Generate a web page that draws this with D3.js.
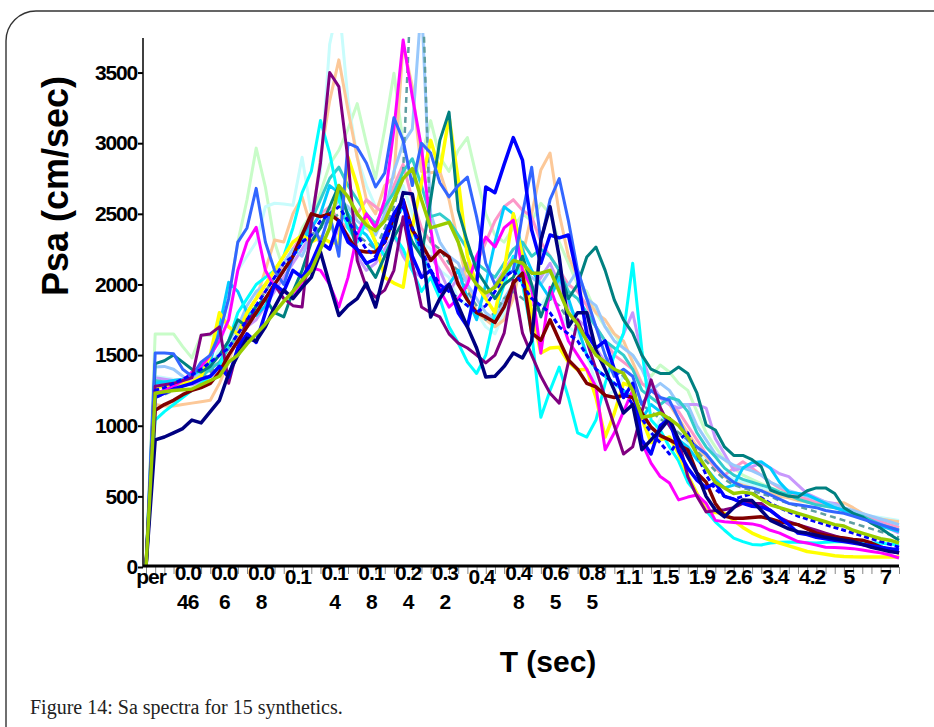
<!DOCTYPE html>
<html>
<head>
<meta charset="utf-8">
<script src="https://cdn.jsdelivr.net/npm/d3@7"></script>
<style>
  body { margin: 0; background: #fff; }
  svg { display: block; }
</style>
</head>
<body>
<div id="chart"></div>
<script>
// Periods (sec) of the spectra, first column is the "per" header column
const periods = ["per", "0.04", "0.042", "0.044", "0.046", "0.048", "0.05", "0.055", "0.06", "0.065",
    "0.07", "0.075", "0.08", "0.085", "0.09", "0.095", "0.1", "0.11", "0.12", "0.13",
    "0.14", "0.15", "0.16", "0.17", "0.18", "0.19", "0.2", "0.22", "0.24", "0.26",
    "0.28", "0.3", "0.32", "0.34", "0.36", "0.38", "0.4", "0.42", "0.44", "0.46",
    "0.48", "0.5", "0.55", "0.6", "0.65", "0.7", "0.75", "0.8", "0.85", "0.9",
    "0.95", "1", "1.1", "1.2", "1.3", "1.4", "1.5", "1.6", "1.7", "1.8",
    "1.9", "2", "2.2", "2.4", "2.6", "2.8", "3", "3.2", "3.4", "3.6",
    "3.8", "4", "4.2", "4.4", "4.6", "4.8", "5", "5.5", "6", "6.5",
    "7", "7.5", "8"];

const yTicks = [0, 500, 1000, 1500, 2000, 2500, 3000, 3500];

// Psa values (cm/sec), one array per synthetic
const navy = [0,
    900, 920, 950, 980, 1040, 1020, 1100, 1180, 1370, 1500,
    1620, 1600, 1700, 1840, 1960, 1900, 1980, 2050, 2230, 2000,
    1780, 1850, 1900, 2010, 1840, 2100, 2380, 2650, 2640, 2290,
    1770, 1900, 2000, 1850, 1700, 1550, 1345, 1350, 1420, 1515,
    1480, 1600, 2315, 2550, 2195, 1700, 1800, 1800, 1535, 1400,
    1250, 1090, 1150, 830, 900, 970, 1050, 900, 780, 665,
    500, 405, 355, 420, 475, 470, 400, 330, 300, 270,
    250, 240, 225, 210, 200, 190, 180, 160, 140, 125,
    110, 100];

const blue = [0,
    1200, 1230, 1260, 1280, 1300, 1330, 1350, 1420, 1345, 1550,
    1650, 1590, 1800, 2000, 1950, 2100, 2050, 2150, 2300, 2250,
    2450, 2300, 2250, 2150, 2180, 2350, 2500, 2600, 2200, 2050,
    2100, 1950, 2000, 1800, 1700, 2000, 2690, 2650, 2850, 3040,
    2880, 2385, 2150, 2350, 2330, 2350, 2050, 1650, 1550, 1600,
    1400, 1200, 1300, 900, 800, 1000, 1050, 820, 700, 615,
    560, 595, 500, 480, 450, 430, 425, 400, 350, 300,
    240, 230, 210, 200, 190, 180, 170, 160, 150, 140,
    130, 120];

const royal = [0,
    1515, 1515, 1510, 1400, 1350, 1450, 1500, 1650, 1900, 2300,
    2400, 2680, 2300, 2100, 2000, 2200, 2350, 2450, 2300, 2500,
    2200, 3000, 2970, 2860, 2690, 2790, 3180, 3020, 2700, 3000,
    2930, 2720, 2620, 2700, 2760, 2480, 2150, 2000, 2050, 2100,
    2500, 2830, 2300, 2600, 2750, 2450, 2100, 1900, 1700, 1500,
    1350, 1400, 1350, 1150, 1250, 1200, 1180, 1050, 900, 850,
    800, 720, 650, 600, 570, 560, 540, 510, 480, 450,
    440, 430, 420, 400, 390, 380, 360, 340, 320, 300,
    280, 260];

const lightBlue = [0,
    1415, 1420, 1400, 1350, 1300, 1380, 1450, 1500, 1600, 1700,
    1850, 1950, 2000, 2100, 2150, 2250, 2200, 2350, 2400, 2500,
    2600, 2550, 2450, 2400, 2350, 2500, 2800, 3000, 3100, 4000,
    2500, 2300, 2200, 2150, 2000, 1900, 1800, 1750, 1900, 2000,
    2100, 2050, 2000, 2100, 2000, 2000, 2100, 1900, 1850, 1700,
    1600, 1550, 1500, 1400, 1250, 1300, 1250, 1150, 1150, 1000,
    900, 800, 760, 720, 700, 680, 650, 600, 570, 540,
    520, 500, 480, 460, 440, 420, 400, 380, 360, 340,
    320, 300];

const cyan = [0,
    1040, 1100, 1150, 1200, 1250, 1300, 1350, 1420, 1600, 1800,
    1900, 2000, 2050, 2100, 2200, 2400, 2650, 2800, 3160, 2930,
    2600, 2400, 2300, 2450, 2300, 2200, 2350, 2250, 2100, 1950,
    2050, 1900, 1700, 1585, 1450, 1370, 1500, 1800, 2000, 2200,
    2000, 1655, 1060, 1250, 1415, 1200, 950, 920, 1040, 1300,
    1500, 1655, 2150, 1535, 1040, 970, 850, 750, 600, 520,
    400, 320, 260, 205, 180, 160, 156, 170, 175, 177,
    175, 172, 170, 175, 178, 180, 178, 175, 172, 168,
    162, 156];

const deepSky = [0,
    1300, 1310, 1320, 1330, 1350, 1400, 1450, 1700, 2015, 1950,
    1800, 1780, 1850, 2000, 2100, 2200, 2300, 2400, 2500, 2700,
    2650, 2500, 2400, 2350, 2250, 2300, 2450, 2550, 2400, 2200,
    2100, 1950, 2000, 2100, 1900, 1750, 2000, 2300, 2550, 2500,
    2245, 2100, 2000, 1900, 2050, 1900, 1700, 1500, 1400, 1350,
    1300, 1250, 1200, 1050, 1150, 1100, 1000, 900, 850, 760,
    700, 620, 560, 580, 700, 740, 745, 700, 600, 530,
    520, 510, 480, 450, 420, 400, 380, 350, 320, 290,
    270, 250];

const lightCyan = [0,
    1350, 1340, 1330, 1310, 1280, 1330, 1400, 1550, 1800, 2100,
    2200, 2300, 2550, 2575, 2570, 2560, 2900, 2500, 2800, 3700,
    4000, 3300, 2900, 2700, 2550, 2500, 2600, 2700, 2500, 2300,
    2250, 2100, 2050, 1900, 1850, 1800, 1700, 1650, 1800, 2000,
    2050, 1900, 1850, 1950, 1800, 1700, 1650, 1500, 1300, 1200,
    1250, 1350, 1300, 1100, 900, 1050, 1000, 950, 880, 800,
    750, 720, 660, 620, 600, 580, 560, 540, 520, 500,
    490, 470, 450, 430, 420, 400, 390, 370, 360, 350,
    340, 330];

const teal = [0,
    1440, 1460, 1500, 1450, 1400, 1380, 1420, 1500, 1600, 1750,
    1700, 1850, 1900, 1800, 1770, 1950, 2100, 2300, 2400, 2550,
    2700, 2480, 2240, 2150, 2050, 2200, 2335, 2450, 2300, 2200,
    2600, 3020, 3220, 2525, 2300, 2100, 2000, 1900, 2000, 2050,
    2200, 2000, 1770, 1950, 2100, 1900, 2000, 2195, 2265, 2100,
    1890, 1750, 1655, 1500, 1400, 1370, 1370, 1415, 1370, 1230,
    1005, 970, 850, 790, 790, 760, 710, 545, 520, 500,
    495, 540, 560, 560, 520, 420, 380, 355, 310, 275,
    230, 190];

const turquoise = [0,
    1320, 1310, 1300, 1290, 1300, 1350, 1400, 1450, 1550, 1650,
    1750, 1850, 1900, 2000, 2100, 2200, 2300, 2450, 2600, 2750,
    2830, 2700, 2600, 2500, 2430, 2550, 2650, 2800, 2890, 2700,
    2480, 2500, 2450, 2350, 2250, 2150, 2100, 2050, 2150, 2250,
    2300, 2200, 2250, 2200, 2100, 1950, 1900, 1800, 1700, 1600,
    1550, 1500, 1400, 1250, 1200, 1150, 1200, 1180, 1100, 950,
    850, 780, 700, 650, 620, 600, 580, 560, 530, 510,
    480, 460, 440, 430, 420, 400, 380, 360, 330, 300,
    280, 260];

const paleGreen = [0,
    1650, 1650, 1650, 1560, 1480, 1640, 1640, 1650, 1900, 2300,
    2600, 2965, 2690, 2300, 2100, 2200, 2400, 2500, 2650, 2850,
    2950, 3100, 3280, 3000, 2750, 3100, 3495, 3000, 2700, 2900,
    3160, 2900, 2800, 2950, 3040, 2760, 2500, 2350, 2300, 2400,
    2500, 2450, 2575, 2500, 2300, 2150, 2000, 1950, 1800, 1700,
    1650, 1550, 1500, 1400, 1350, 1430, 1380, 1300, 1250, 1100,
    950, 850, 760, 700, 650, 620, 590, 560, 540, 520,
    500, 480, 460, 440, 420, 400, 380, 360, 340, 320,
    300, 280];

const yellow = [0,
    1270, 1280, 1290, 1300, 1310, 1350, 1500, 1800, 1700, 1650,
    1800, 1900, 2000, 2100, 2200, 2300, 2350, 2300, 2335, 2300,
    2290, 2900, 2700, 2450, 2300, 2050, 2010, 1980, 2400, 2720,
    3020, 2800, 3185, 2740, 2200, 2000, 1900, 1800, 2100, 2500,
    2200, 1800, 1515, 1550, 1555, 1450, 1395, 1400, 1200, 920,
    1090, 1300, 1275, 1050, 880, 900, 920, 800, 650, 520,
    400, 385, 380, 330, 280, 240, 212, 190, 170, 150,
    130, 110, 100, 90, 80, 75, 72, 71, 70, 70,
    71, 71];

const magenta = [0,
    1230, 1250, 1280, 1320, 1380, 1420, 1500, 1600, 1750, 2100,
    2300, 2405, 2100, 1980, 1950, 1910, 2000, 2120, 2100, 2000,
    1840, 2050, 2350, 2500, 2400, 2600, 3100, 3730, 3330, 2970,
    2400, 1960, 1840, 1900, 2000, 2200, 2335, 2265, 2400, 2455,
    2100, 1980, 1515, 1980, 1800, 1600, 1500, 1400, 1275, 830,
    950, 1100, 1250, 880, 735, 640, 595, 475, 495, 510,
    450, 330, 320, 315, 310, 305, 290, 260, 240, 210,
    180, 170, 155, 140, 138, 135, 130, 120, 110, 100,
    85, 64];

const purple = [0,
    1280, 1290, 1300, 1320, 1340, 1640, 1650, 1700, 1300, 1550,
    1750, 1800, 1900, 2000, 1900, 1850, 1840, 2435, 2860, 3500,
    3400, 2880, 2170, 1980, 1910, 1960, 2100, 2480, 2150, 1840,
    1800, 1770, 1650, 1585, 1550, 1500, 1445, 1500, 1655, 2030,
    1655, 1500, 1350, 1230, 1160, 1450, 1750, 1600, 1400, 1200,
    1000, 800, 850, 1100, 1325, 1130, 1000, 900, 640, 500,
    390, 400, 405, 420, 450, 450, 450, 400, 350, 320,
    300, 280, 260, 240, 220, 200, 180, 160, 150, 130,
    115, 100];

const maroon = [0,
    1110, 1150, 1180, 1220, 1250, 1270, 1300, 1380, 1500, 1600,
    1700, 1800, 1900, 2000, 2100, 2200, 2350, 2500, 2480, 2500,
    2450, 2335, 2240, 2230, 2230, 2300, 2480, 2600, 2385, 2290,
    2170, 2240, 2195, 2000, 1890, 1800, 1770, 1730, 1840, 2010,
    2080, 1655, 1605, 1750, 1605, 1465, 1400, 1300, 1275, 1215,
    1200, 1215, 1200, 1090, 990, 930, 900, 865, 830, 665,
    600, 450, 360, 345, 345, 350, 355, 340, 320, 310,
    300, 270, 240, 225, 212, 205, 195, 190, 170, 142,
    120, 100];

const peach = [0,
    1150, 1140, 1140, 1150, 1160, 1170, 1180, 1300, 1450, 1650,
    1800, 1900, 2100, 2315, 2300, 2500, 2620, 2400, 2900, 3300,
    3590, 3235, 2900, 2600, 2500, 2700, 2760, 3700, 3400, 2800,
    2790, 2800, 2600, 2300, 2000, 1800, 1750, 1700, 1750, 1900,
    2200, 2500, 2810, 2930, 2500, 2200, 2050, 1900, 1800, 1750,
    1650, 1600, 1450, 1300, 1250, 1200, 1150, 1050, 950, 850,
    780, 700, 640, 600, 580, 560, 540, 520, 500, 490,
    470, 460, 450, 440, 450, 455, 420, 380, 350, 340,
    330, 320];

const pink = [0,
    1300, 1310, 1320, 1330, 1340, 1360, 1400, 1450, 1550, 1650,
    1800, 1900, 1950, 2050, 2150, 2250, 2350, 2400, 2500, 2550,
    2450, 2400, 2500, 2600, 2550, 2500, 2700, 2850, 2600, 2400,
    2300, 2200, 2100, 2000, 2050, 2150, 2300, 2450, 2550, 2600,
    2525, 2480, 2300, 2200, 2100, 2000, 1950, 1850, 1700, 1600,
    1500, 1450, 1400, 1300, 1250, 1200, 1150, 1100, 1000, 900,
    800, 700, 650, 700, 745, 700, 650, 600, 560, 530,
    500, 480, 460, 440, 420, 400, 380, 360, 340, 320,
    300, 280];

const lavender = [0,
    1340, 1330, 1320, 1300, 1290, 1310, 1350, 1400, 1500, 1600,
    1700, 1750, 1850, 1950, 2050, 2150, 2250, 2350, 2300, 2250,
    2400, 2350, 2200, 2100, 2150, 2250, 2350, 2200, 2100, 2050,
    2200, 2100, 1950, 2050, 2150, 2000, 1900, 2000, 2100, 2200,
    2050, 1950, 2050, 2150, 2000, 1850, 1750, 1700, 1550, 1450,
    1500, 1650, 1800, 1500, 1300, 1200, 1150, 1125, 1150, 1150,
    1125, 910, 800, 685, 700, 710, 735, 700, 660, 640,
    580, 520, 490, 460, 450, 420, 380, 355, 330, 310,
    270, 240];

const cadetDash = [0,
    1200, 1220, 1250, 1280, 1300, 1330, 1380, 1450, 1550, 1650,
    1750, 1850, 1950, 2050, 2100, 2200, 2300, 2350, 2400, 2450,
    2500, 2450, 2350, 2300, 2250, 2400, 2550, 2800, 4300, 4300,
    2300, 2250, 2150, 2100, 1950, 1850, 1750, 1800, 1900, 1950,
    1900, 1850, 1800, 1900, 1850, 1750, 1700, 1600, 1500, 1450,
    1400, 1350, 1250, 1150, 1100, 1050, 1000, 950, 900, 820,
    750, 680, 620, 580, 560, 540, 520, 500, 470, 450,
    430, 410, 390, 370, 350, 330, 310, 290, 270, 250,
    230, 210];

const blueDash = [0,
    1250, 1270, 1300, 1330, 1360, 1400, 1450, 1500, 1550, 1650,
    1750, 1850, 1950, 2050, 2150, 2200, 2300, 2350, 2450, 2500,
    2550, 2450, 2350, 2250, 2200, 2300, 2450, 2550, 2400, 2250,
    2100, 2000, 1950, 1900, 1850, 1800, 1850, 1950, 2050, 2100,
    2000, 1900, 1850, 1800, 1700, 1650, 1600, 1500, 1400, 1350,
    1300, 1250, 1150, 1050, 950, 880, 800, 900, 950, 800,
    650, 550, 500, 480, 500, 520, 490, 450, 420, 390,
    360, 340, 320, 300, 280, 260, 240, 220, 200, 180,
    160, 140];

const average = [0,
    1230, 1240, 1250, 1255, 1260, 1290, 1320, 1350, 1450, 1500,
    1580, 1650, 1720, 1800, 1880, 1950, 2030, 2100, 2250, 2400,
    2700, 2620, 2500, 2420, 2380, 2450, 2600, 2750, 2820, 2600,
    2400, 2420, 2440, 2300, 2100, 2000, 1940, 1980, 2080, 2170,
    2150, 2080, 2080, 2100, 1950, 1800, 1720, 1600, 1500, 1450,
    1400, 1370, 1250, 1060, 1070, 1090, 1050, 1000, 920, 800,
    700, 600, 560, 520, 530, 520, 480, 440, 420, 400,
    380, 360, 340, 320, 300, 290, 260, 240, 220, 200,
    190, 170];

// drawing order: pale lines underneath, dark / average on top
const seriesList = [
    { values: paleGreen, color: "#c8fcc8", width: 3 },
    { values: lightCyan, color: "#c8fcfc", width: 3 },
    { values: peach, color: "#fcc898", width: 3 },
    { values: pink, color: "#fc98c8", width: 3 },
    { values: lavender, color: "#c898fc", width: 3 },
    { values: lightBlue, color: "#98c8fc", width: 3 },
    { values: cadetDash, color: "#5f9ea0", width: 2.5, dash: "6,4" },
    { values: turquoise, color: "#33cccc", width: 3 },
    { values: deepSky, color: "#00ccff", width: 3 },
    { values: cyan, color: "#00ffff", width: 3 },
    { values: yellow, color: "#ffff00", width: 3.5 },
    { values: magenta, color: "#ff00ff", width: 3 },
    { values: teal, color: "#008080", width: 3 },
    { values: royal, color: "#3366ff", width: 3 },
    { values: purple, color: "#800080", width: 3 },
    { values: maroon, color: "#800000", width: 3.5 },
    { values: blueDash, color: "#0000ff", width: 3, dash: "5,3" },
    { values: blue, color: "#0000ff", width: 3.5 },
    { values: navy, color: "#000080", width: 3.5 },
    { values: average, color: "#99cc00", width: 3.5 }
];

const W = 934, H = 727;
const svg = d3.select("#chart").append("svg")
    .attr("width", W)
    .attr("height", H);

// rounded frame of the figure box
svg.append("rect")
    .attr("x", 6).attr("y", 11)
    .attr("width", 960).attr("height", 745)
    .attr("rx", 30)
    .attr("fill", "none")
    .attr("stroke", "#333")
    .attr("stroke-width", 1.4);

const x = d3.scalePoint()
    .domain(d3.range(periods.length))
    .range([146, 899]);

const y = d3.scaleLinear()
    .domain([0, 3780])
    .range([567, 33]);

svg.append("clipPath").attr("id", "plot")
    .append("rect")
    .attr("x", 143).attr("y", 33)
    .attr("width", 770).attr("height", 540);

const line = d3.line()
    .x((d, i) => x(i))
    .y(d => y(d));

svg.append("g").attr("clip-path", "url(#plot)")
    .selectAll("path")
    .data(seriesList)
    .enter()
    .append("path")
    .attr("d", d => line(d.values))
    .attr("fill", "none")
    .attr("stroke", d => d.color)
    .attr("stroke-width", d => d.width)
    .attr("stroke-dasharray", d => d.dash || null)
    .attr("stroke-linejoin", "round");

const fontFam = "'Liberation Sans', Arial, sans-serif";

// y axis
const yAxis = svg.append("g")
    .attr("transform", "translate(143,0)")
    .call(d3.axisLeft(y).tickValues(yTicks).tickFormat(d3.format("d"))
        .tickSize(5).tickPadding(1).tickSizeOuter(0));
yAxis.select(".domain").attr("d", "M0,38V567").attr("stroke", "#000").attr("stroke-width", 1.5);
yAxis.selectAll(".tick line").attr("stroke", "#000").attr("stroke-width", 2);
yAxis.selectAll(".tick text")
    .attr("font-family", fontFam)
    .attr("font-weight", "bold")
    .attr("font-size", 21)
    .attr("letter-spacing", "-1.2px")
    .attr("fill", "#000");

// x axis: one small tick per period, label every fourth
const xAxis = svg.append("g")
    .attr("transform", "translate(0,567)")
    .call(d3.axisBottom(x).tickSize(7).tickFormat("").tickSizeOuter(0));
xAxis.select(".domain").remove();
xAxis.selectAll(".tick line").attr("stroke", "#888").attr("stroke-width", 1);
svg.append("line")
    .attr("x1", 143).attr("x2", 899)
    .attr("y1", 566).attr("y2", 566)
    .attr("stroke", "#000").attr("stroke-width", 3);

const labelled = periods.map((p, i) => ({ p, i })).filter(d => d.i % 4 === 0);
const xLab = svg.append("g")
    .attr("font-family", fontFam)
    .attr("font-weight", "bold")
    .attr("font-size", 21)
    .attr("letter-spacing", "-1px")
    .attr("text-anchor", "middle");

labelled.forEach(d => {
    const t = xLab.append("text")
        .attr("x", x(d.i) + 5)
        .attr("y", d.p.length > 3 ? 580 : 584);
    t.append("tspan").attr("x", x(d.i) + 5).text(d.p.slice(0, 3));
    if (d.p.length > 3) {
        t.append("tspan").attr("x", x(d.i) + 5).attr("dy", 29).text(d.p.slice(3));
    }
});

// axis titles
svg.append("text")
    .attr("transform", "translate(68,186) rotate(-90)")
    .attr("text-anchor", "middle")
    .attr("font-family", fontFam)
    .attr("font-weight", "bold")
    .attr("font-size", 36)
    .text("Psa (cm/sec)");

svg.append("text")
    .attr("x", 548).attr("y", 672)
    .attr("text-anchor", "middle")
    .attr("font-family", fontFam)
    .attr("font-weight", "bold")
    .attr("font-size", 30)
    .text("T (sec)");

// figure caption
svg.append("text")
    .attr("x", 30).attr("y", 714)
    .attr("font-family", "'Liberation Serif', 'Times New Roman', serif")
    .attr("font-size", 20)
    .attr("fill", "#222")
    .text("Figure 14: Sa spectra for 15 synthetics.");
</script>
</body>
</html>
